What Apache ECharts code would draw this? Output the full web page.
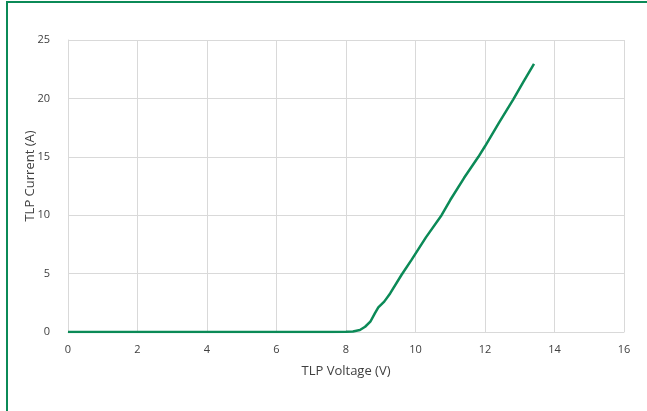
<!DOCTYPE html>
<html>
<head>
<meta charset="utf-8">
<script src="https://cdn.jsdelivr.net/npm/echarts@6/dist/echarts.min.js"></script>
<style>
  html, body { margin: 0; padding: 0; background: #fff; }
  #main { width: 647px; height: 411px; }
</style>
</head>
<body>
<div id="main"></div>
<script>
const voltage = [0, 1, 2, 3, 4, 5, 6, 7, 7.6, 8.0, 8.2, 8.4, 8.55, 8.7, 8.83, 8.93, 9.1, 9.27, 9.6, 9.89,
  10.3, 10.75, 11.0, 11.4, 11.81, 12.0, 12.4, 12.81, 13.1, 13.41];
const current = [0, 0, 0, 0, 0, 0, 0, 0, 0.01, 0.02, 0.05, 0.17, 0.45, 0.88, 1.6, 2.1, 2.6, 3.3, 4.9, 6.2,
  8.1, 10.0, 11.3, 13.2, 15.0, 15.9, 17.9, 19.9, 21.4, 22.95];
const xTicks = [0, 2, 4, 6, 8, 10, 12, 14, 16];
const yTicks = [0, 5, 10, 15, 20, 25];

const green = '#0b8a57';
const gridColor = '#d9d9d9';
const labelColor = '#404040';
const font = 'Open Sans';

const chart = echarts.init(document.getElementById('main'));

const option = {
  animation: false,
  grid: { left: 68, right: 23, top: 40, bottom: 79 },
  xAxis: {
    type: 'value',
    min: xTicks[0],
    max: xTicks[xTicks.length - 1],
    interval: xTicks[1] - xTicks[0],
    axisLine: { show: true, lineStyle: { color: gridColor } },
    axisTick: { show: false },
    axisLabel: { color: labelColor, fontFamily: font, fontSize: 11, margin: 12 },
    splitLine: { show: true, lineStyle: { color: gridColor, width: 1 } }
  },
  yAxis: {
    type: 'value',
    min: yTicks[0],
    max: yTicks[yTicks.length - 1],
    interval: yTicks[1] - yTicks[0],
    axisLine: { show: true, lineStyle: { color: gridColor } },
    axisTick: { show: false },
    axisLabel: { color: labelColor, fontFamily: font, fontSize: 11, margin: 18 },
    splitLine: { show: true, lineStyle: { color: gridColor, width: 1 } }
  },
  graphic: [
    {
      type: 'rect',
      shape: { x: 7, y: 2, width: 700, height: 500 },
      style: { fill: 'none', stroke: green, lineWidth: 2 },
      silent: true
    },
    {
      type: 'text',
      x: 30, y: 176,
      rotation: Math.PI / 2,
      style: {
        text: 'TLP Current (A)', fill: labelColor, font: '13px "' + font + '"',
        textAlign: 'center', textVerticalAlign: 'middle'
      }
    },
    {
      type: 'text',
      x: 346, y: 371,
      style: {
        text: 'TLP Voltage (V)', fill: labelColor, font: '13px "' + font + '"',
        textAlign: 'center', textVerticalAlign: 'middle'
      }
    }
  ],
  series: [
    {
      type: 'line',
      showSymbol: false,
      data: voltage.map((v, i) => [v, current[i]]),
      lineStyle: { color: green, width: 2.5 },
      itemStyle: { color: green }
    }
  ]
};

chart.setOption(option);
</script>
</body>
</html>
